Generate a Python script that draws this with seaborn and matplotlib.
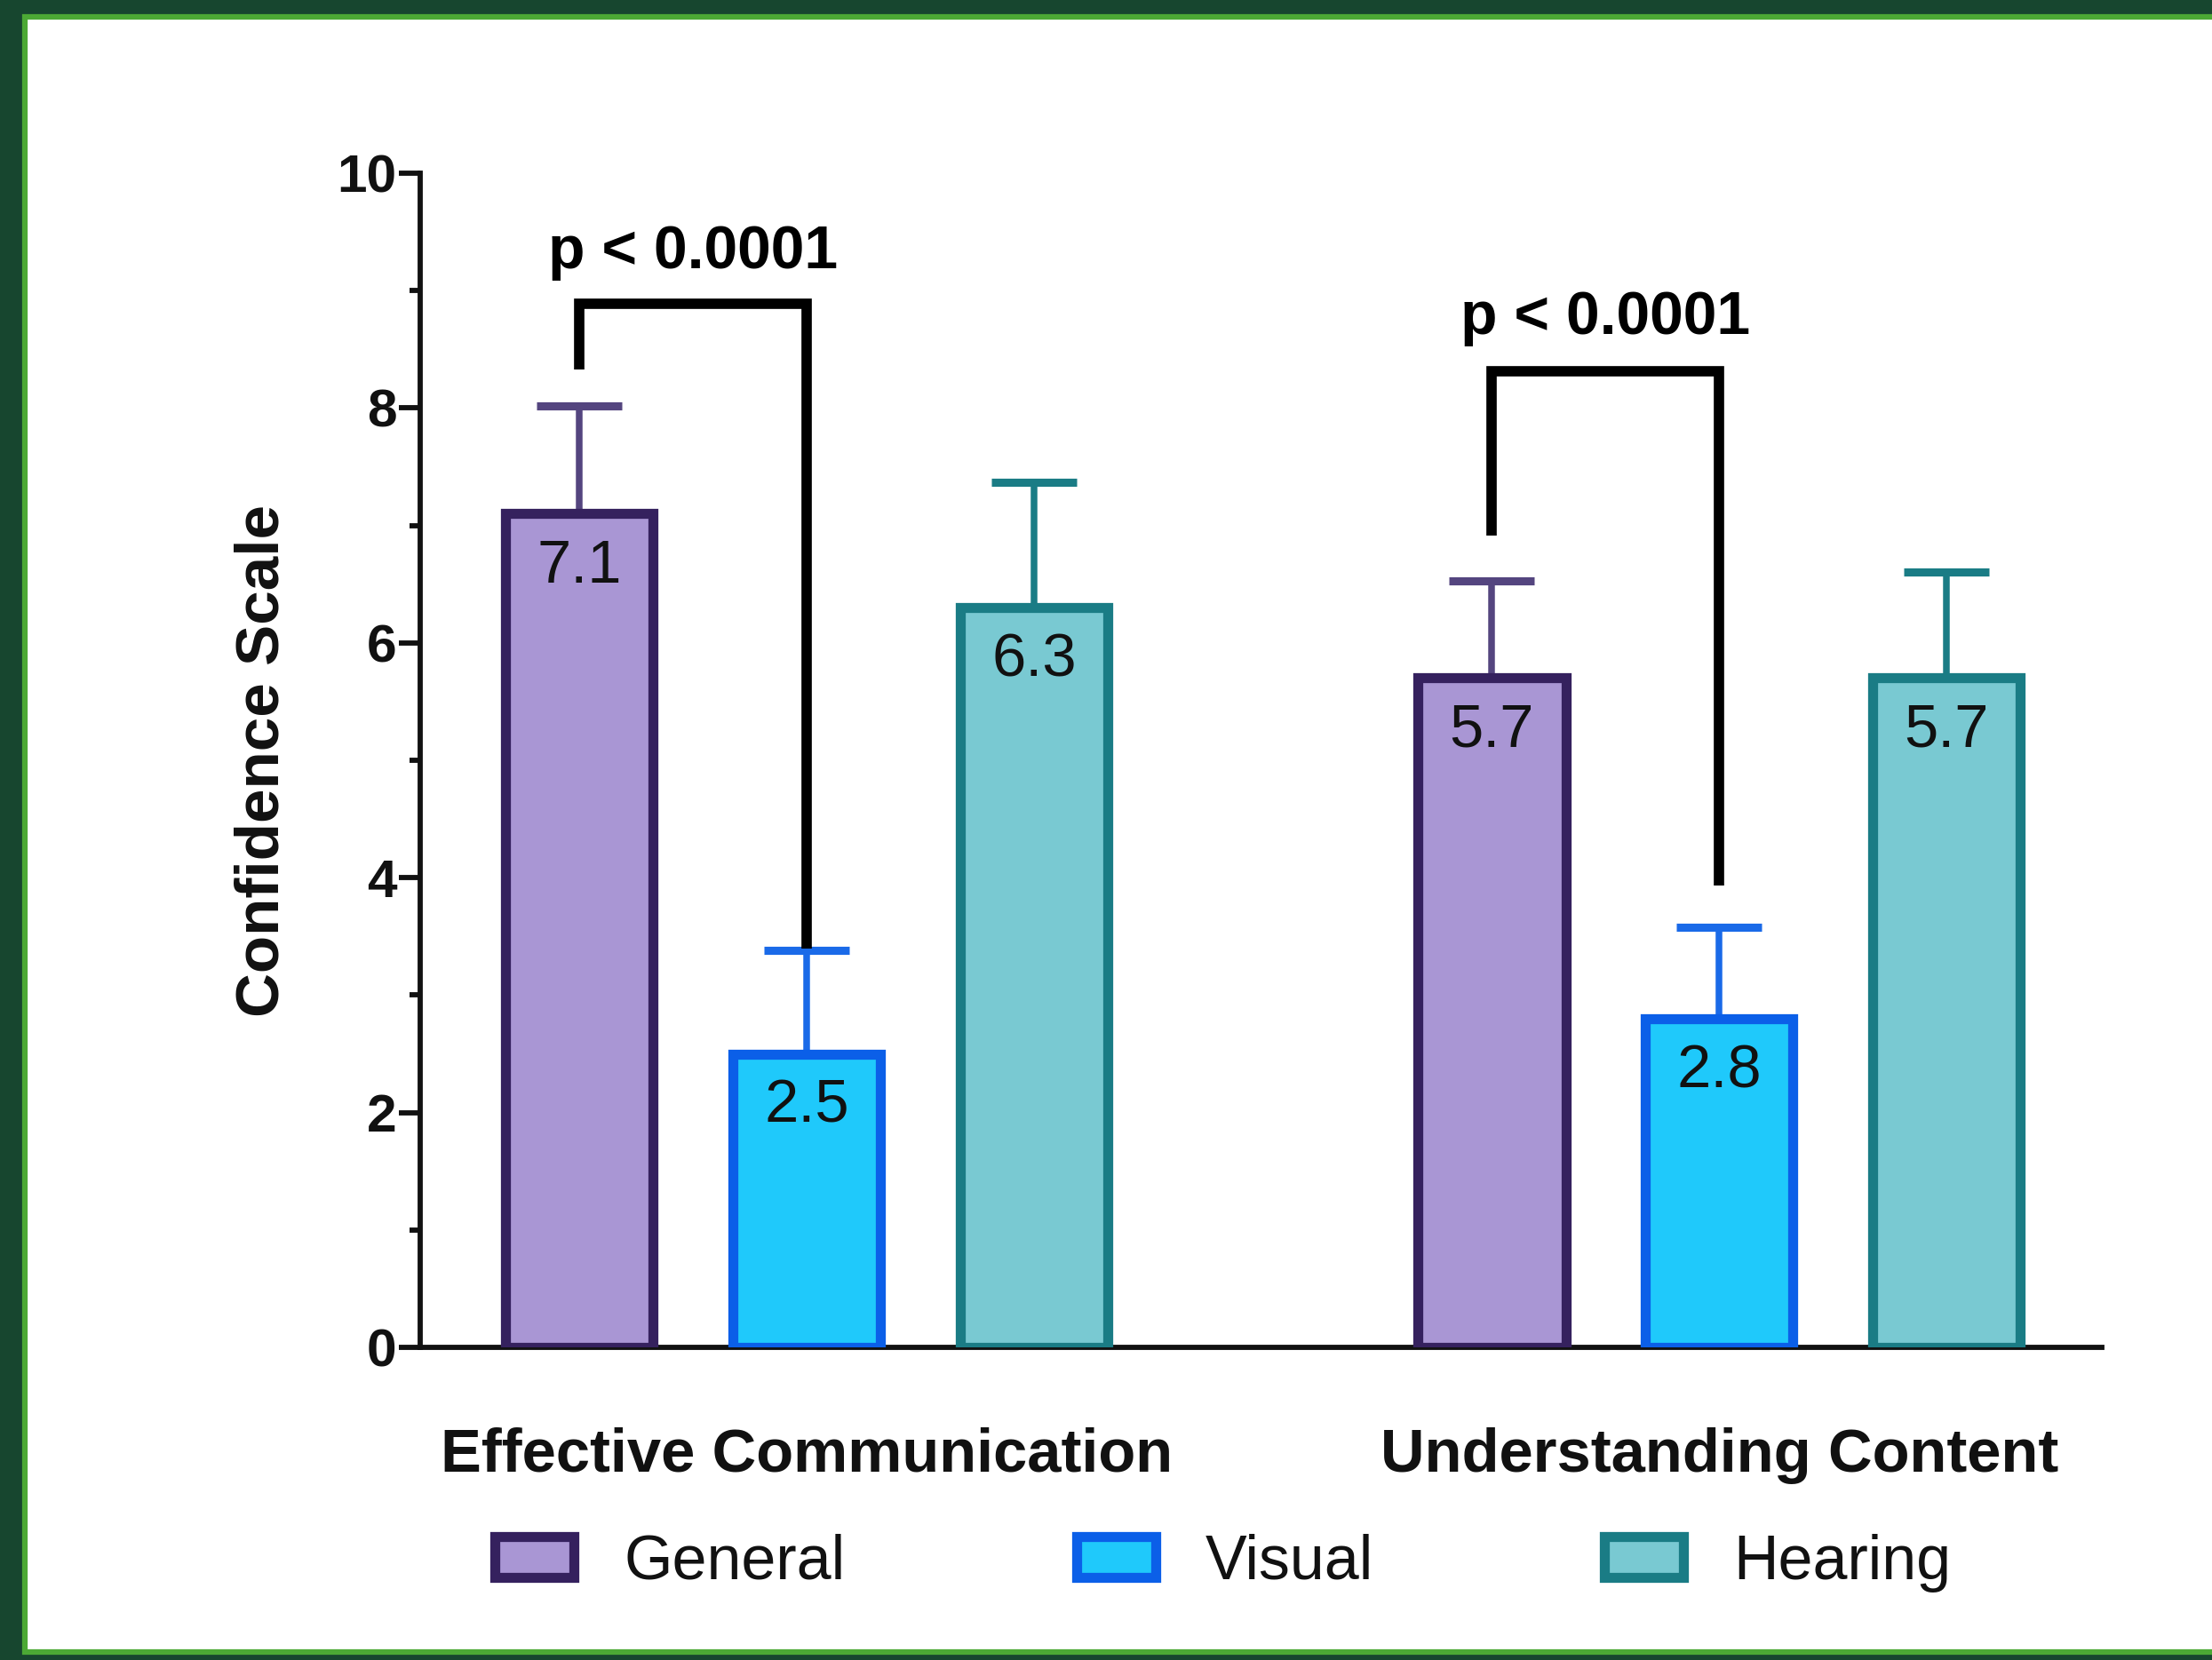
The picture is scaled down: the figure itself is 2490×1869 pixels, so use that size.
import matplotlib
matplotlib.use("Agg")
import matplotlib.pyplot as plt
from matplotlib.patches import Rectangle
from matplotlib.ticker import MultipleLocator
import numpy as np
import pandas as pd
import seaborn as sns

# ---- data ----
domains = ["Effective Communication", "Understanding Content"]
groups = ["General", "Visual", "Hearing"]
general_mean = [7.1, 5.7]
visual_mean = [2.5, 2.8]
hearing_mean = [6.3, 5.7]
general_err = [0.92, 0.83]
visual_err = [0.88, 0.78]
hearing_err = [1.07, 0.90]

# significance brackets between General and Visual within each domain
bracket_domain = [0, 1]
bracket_top = [8.89, 8.31]
bracket_left_end = [8.33, 6.91]
bracket_right_end = [3.40, 3.93]
bracket_text = ["p < 0.0001", "p < 0.0001"]
bracket_text_y = [9.33, 8.77]

fill_colors = ["#A996D4", "#1FC9FB", "#79C9D2"]
edge_colors = ["#35215E", "#0B5FE8", "#1A7C85"]
err_colors = ["#54457F", "#1A6AE8", "#1A7C85"]

df = pd.DataFrame({
    "Domain": np.repeat(domains, 3),
    "Group": groups * 2,
    "Score": [general_mean[0], visual_mean[0], hearing_mean[0],
              general_mean[1], visual_mean[1], hearing_mean[1]],
})
errs = {"General": general_err, "Visual": visual_err, "Hearing": hearing_err}

sns.set_theme(style="ticks")
plt.rcParams["font.family"] = ["Liberation Sans", "DejaVu Sans"]

fig = plt.figure(figsize=(8.3, 6.23), dpi=300)
fig.patch.set_facecolor("#17462F")
# white panel with green frame line
fig.patches.append(Rectangle((0.01124, 0.00455), 1.2, 0.98555, transform=fig.transFigure,
                             facecolor="white", edgecolor="#4CA935", linewidth=1.5,
                             zorder=-5))

ax = fig.add_axes([0.190, 0.1883, 0.760, 0.7074])
ax.set_facecolor("none")
ax.set_zorder(2)

sns.barplot(data=df, x="Domain", y="Score", hue="Group", hue_order=groups,
            order=domains, palette=fill_colors, saturation=1, width=0.747, gap=0.35,
            errorbar=None, linewidth=2.6, legend=False, ax=ax, zorder=3)

bar_containers = list(ax.containers)
centers = [[p.get_x() + p.get_width() / 2 for p in c.patches] for c in bar_containers]

for cont, ec, erc, g in zip(bar_containers, edge_colors, err_colors, groups):
    for i, p in enumerate(cont.patches):
        p.set_edgecolor(ec)
        p.set_linewidth(2.7)
        x = p.get_x() + p.get_width() / 2
        h = p.get_height()
        ax.errorbar(x, h, yerr=[[0], [errs[g][i]]], fmt="none", ecolor=erc,
                    elinewidth=1.8, capsize=11.5, capthick=2.2, zorder=2,
                    clip_on=False)
        ax.annotate(f"{h:.1f}", (x, h), xytext=(0, -14.2), textcoords="offset points",
                    ha="center", va="center", fontsize=16.5, color="#111111",
                    zorder=5)

for d, top, yl, yr, txt, ty in zip(bracket_domain, bracket_top, bracket_left_end,
                                   bracket_right_end, bracket_text, bracket_text_y):
    x0 = centers[0][d]
    x1 = centers[1][d]
    ax.plot([x0, x0, x1, x1], [yl, top, top, yr], color="black", lw=2.8,
            solid_joinstyle="miter", solid_capstyle="butt", zorder=6, clip_on=False)
    ax.text((x0 + x1) / 2, ty, txt, ha="center", va="center", fontsize=16.3,
            fontweight="bold", color="black", zorder=6)

ax.set_xlim(-0.4235, 1.419)
ax.set_ylim(0, 10)
ax.yaxis.set_major_locator(MultipleLocator(2))
ax.yaxis.set_minor_locator(MultipleLocator(1))
sns.despine(ax=ax)
for s in ["left", "bottom"]:
    ax.spines[s].set_linewidth(1.4)
    ax.spines[s].set_color("#111111")
ax.tick_params(axis="y", which="major", length=5.8, width=1.4, pad=0.6,
               labelsize=14.5, colors="#111111")
ax.tick_params(axis="y", which="minor", length=2.9, width=1.4, colors="#111111")
ax.tick_params(axis="x", which="both", length=0, pad=21.5, labelsize=16.5)
for lab in ax.get_yticklabels():
    lab.set_fontweight("bold")
for lab in ax.get_xticklabels():
    lab.set_fontweight("bold")
    lab.set_color("#111111")

ax.set_xlabel("")
ax.set_ylabel("Confidence Scale", fontsize=16.6, fontweight="bold", color="#111111")
ax.yaxis.set_label_coords(-0.077, 0.5)

handles = [c.patches[0] for c in bar_containers]
leg = fig.legend(handles, groups, loc="center", bbox_to_anchor=(0.553, 0.0585),
                 ncol=3, frameon=False, fontsize=16.8, handlelength=1.27,
                 handleheight=0.65, handletextpad=0.8, columnspacing=3.72,
                 labelcolor="#111111")

fig.savefig("out.png", dpi=300, facecolor=fig.get_facecolor())
